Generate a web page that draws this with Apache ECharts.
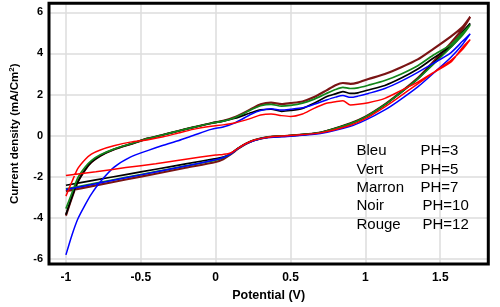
<!DOCTYPE html>
<html><head><meta charset="utf-8">
<script src="https://cdn.jsdelivr.net/npm/echarts@6/dist/echarts.min.js"></script>
<style>html,body{margin:0;padding:0;background:#fff}#c{width:500px;height:307px}</style>
</head><body><div id="c"></div>
<script>
// Potential grids (V)
const fwdPotential = [-1, -0.8, -0.6, -0.4, -0.2, 0, 0.05, 0.1, 0.15, 0.2, 0.26, 0.35, 0.5, 0.7, 0.9, 1.0, 1.13, 1.22, 1.35, 1.48, 1.57, 1.65, 1.7];
const revPotential = [1.7, 1.65, 1.57, 1.45, 1.35, 1.24, 1.13, 1.02, 0.95, 0.9, 0.85, 0.8, 0.74, 0.65, 0.58, 0.5, 0.44, 0.37, 0.3, 0.24, 0.13, 0.05, -0.03, -0.15, -0.25, -0.35, -0.45, -0.57, -0.68, -0.77, -0.83, -0.87, -0.92, -0.96, -1];

// Current density (mA/cm2), forward scan
const marronFwd = [-2.71, -2.43, -2.14, -1.86, -1.57, -1.29, -1.15, -0.92, -0.64, -0.41, -0.22, -0.08, 0.0, 0.15, 0.6, 0.92, 1.52, 2.02, 2.8, 3.8, 4.5, 5.2, 5.78];
const noirFwd   = [-2.42, -2.16, -1.9, -1.64, -1.38, -1.12, -1.05, -0.88, -0.62, -0.4, -0.22, -0.08, 0.0, 0.15, 0.58, 0.9, 1.5, 2.0, 2.76, 3.71, 4.3, 4.95, 5.46];
const vertFwd   = [-2.6, -2.32, -2.04, -1.76, -1.48, -1.2, -1.08, -0.9, -0.63, -0.41, -0.22, -0.08, 0.0, 0.15, 0.58, 0.9, 1.5, 2.0, 2.76, 3.65, 4.3, 4.9, 5.38];
const bleuFwd   = [-2.63, -2.35, -2.06, -1.77, -1.48, -1.18, -1.07, -0.9, -0.64, -0.42, -0.24, -0.1, -0.03, 0.1, 0.45, 0.75, 1.25, 1.68, 2.37, 3.2, 3.8, 4.45, 4.95];
const rougeFwd  = [-1.95, -1.76, -1.56, -1.37, -1.15, -0.95, -0.92, -0.85, -0.62, -0.4, -0.22, -0.08, 0.0, 0.13, 0.5, 0.82, 1.4, 1.85, 2.52, 3.2, 3.65, 4.2, 4.67];

// Reverse scan
const marronRev = [5.78, 5.3, 4.82, 4.2, 3.71, 3.33, 3.0, 2.75, 2.58, 2.52, 2.56, 2.45, 2.2, 1.85, 1.66, 1.58, 1.53, 1.6, 1.52, 1.3, 0.9, 0.72, 0.6, 0.4, 0.22, 0.04, -0.14, -0.42, -0.68, -0.98, -1.3, -1.65, -2.25, -3.02, -3.9];
const noirRev   = [5.46, 5.05, 4.35, 3.75, 3.24, 2.8, 2.44, 2.22, 2.08, 2.05, 2.14, 2.03, 1.89, 1.55, 1.32, 1.22, 1.18, 1.28, 1.25, 1.12, 0.84, 0.7, 0.6, 0.4, 0.22, 0.04, -0.14, -0.42, -0.68, -0.98, -1.3, -1.65, -2.25, -3.0, -3.85];
const vertRev   = [5.38, 5.0, 4.43, 3.9, 3.4, 3.0, 2.68, 2.45, 2.32, 2.29, 2.35, 2.24, 2.05, 1.75, 1.58, 1.47, 1.43, 1.52, 1.45, 1.27, 0.88, 0.7, 0.6, 0.4, 0.22, 0.04, -0.14, -0.41, -0.66, -0.94, -1.22, -1.52, -2.05, -2.8, -3.56];
const bleuRev   = [4.95, 4.6, 4.03, 3.5, 3.08, 2.65, 2.29, 2.05, 1.92, 1.86, 1.95, 1.87, 1.73, 1.5, 1.35, 1.28, 1.24, 1.3, 1.22, 1.05, 0.62, 0.42, 0.3, 0.0, -0.25, -0.47, -0.72, -1.05, -1.55, -2.25, -2.85, -3.35, -4.05, -4.85, -5.81];
const rougeRev  = [4.67, 4.3, 3.57, 3.05, 2.6, 2.2, 1.81, 1.6, 1.52, 1.49, 1.7, 1.65, 1.57, 1.3, 1.05, 0.93, 0.97, 1.05, 1.0, 0.85, 0.62, 0.52, 0.45, 0.3, 0.12, -0.06, -0.2, -0.32, -0.5, -0.7, -0.9, -1.15, -1.6, -2.25, -2.95];

const xTicks = [-1, -0.5, 0, 0.5, 1, 1.5];
const yTicks = [-6, -4, -2, 0, 2, 4, 6];
const legendNames = ['Bleu', 'Vert', 'Marron', 'Noir', 'Rouge'];
const legendPH = ['PH=3', 'PH=5', 'PH=7', 'PH=10', 'PH=12'];

function loop(fwd, rev) {
  return fwdPotential.map((x, i) => [x, fwd[i]]).concat(revPotential.map((x, i) => [x, rev[i]]));
}
const seriesDefs = [
  {name: 'Marron', color: '#7a1414', width: 2.2, data: loop(marronFwd, marronRev)},
  {name: 'Noir', color: '#000000', width: 1.7, data: loop(noirFwd, noirRev)},
  {name: 'Vert', color: '#12861a', width: 1.7, data: loop(vertFwd, vertRev)},
  {name: 'Bleu', color: '#0000ff', width: 1.5, data: loop(bleuFwd, bleuRev)},
  {name: 'Rouge', color: '#ff0000', width: 1.5, data: loop(rougeFwd, rougeRev)}
];

const font = '"Liberation Sans", Arial, sans-serif';
const chart = echarts.init(document.getElementById('c'), null, {renderer: 'canvas'});
const graphics = [];
const legendFont = '15px "Liberation Sans", Arial, sans-serif';
legendNames.forEach((n, i) => {
  const y = 151.3 + i * 18.35;
  graphics.push({type: 'text', x: 356.5, y: y, z: 20, style: {text: n, font: legendFont, fill: '#000', verticalAlign: 'middle', align: 'left'}});
  graphics.push({type: 'text', x: i < 3 ? 420.5 : 422.5, y: y, z: 20, style: {text: legendPH[i], font: legendFont, fill: '#000', verticalAlign: 'middle', align: 'left'}});
});

chart.setOption({
  animation: false,
  backgroundColor: '#fff',
  grid: {left: 40, right: 11.7, top: 3.3, bottom: 37, show: true, borderColor: '#000', borderWidth: 3, backgroundColor: 'transparent', z: 10},
  xAxis: {
    type: 'value', min: -1.113, max: 1.821,
    name: 'Potential (V)', nameLocation: 'middle', nameGap: 21,
    nameTextStyle: {fontFamily: font, fontWeight: 'bold', fontSize: 12.5, color: '#000'},
    axisLine: {show: false},
    axisTick: {show: false, customValues: xTicks},
    axisLabel: {customValues: xTicks, fontFamily: font, fontWeight: 'bold', fontSize: 12, color: '#000', margin: 8},
    splitLine: {show: true, lineStyle: {color: '#dcdcdc', width: 1.5}}
  },
  yAxis: {
    type: 'value', min: -6.26, max: 6.44,
    name: 'Current density (mA/Cm{sup|2})', nameLocation: 'middle', nameGap: 28,
    nameTextStyle: {fontFamily: font, fontWeight: 'bold', fontSize: 11.5, color: '#000',
      rich: {sup: {fontFamily: font, fontWeight: 'bold', fontSize: 8, color: '#000', verticalAlign: 'top', padding: [0, 0, 5, 0]}}},
    axisLine: {show: false},
    axisTick: {show: false, customValues: yTicks},
    axisLabel: {customValues: yTicks, fontFamily: font, fontWeight: 'bold', fontSize: 11, color: '#000', margin: 6},
    splitLine: {show: true, lineStyle: {color: '#dcdcdc', width: 1.5}}
  },
  series: seriesDefs.map(s => ({
    name: s.name, type: 'line', data: s.data, showSymbol: false, smooth: 0.25,
    lineStyle: {color: s.color, width: s.width}, itemStyle: {color: s.color}, z: 3
  })),
  graphic: graphics
});
</script></body></html>
